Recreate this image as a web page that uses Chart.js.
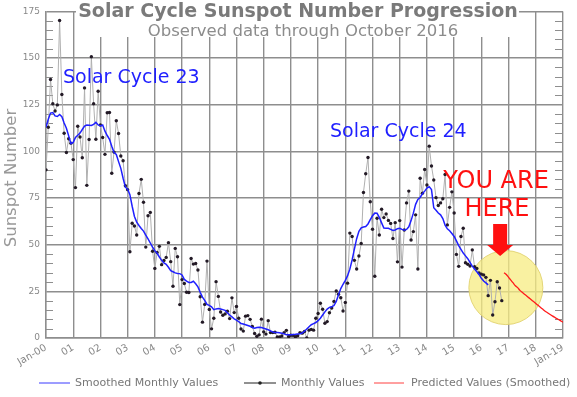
<!DOCTYPE html>
<html>
<head>
<meta charset="utf-8">
<script src="https://cdn.jsdelivr.net/npm/chart.js@4/dist/chart.umd.min.js"></script>
<style>
  html, body { margin: 0; padding: 0; background: #fff; }
  #wrap { width: 577px; height: 397px; }
</style>
</head>
<body>
<div id="wrap"><canvas id="chart" width="577" height="397"></canvas></div>
<script>
// --- Data (years since Jan 2000, one value per month) ---
const xTickLabels = ['Jan-00', '01', '02', '03', '04', '05', '06', '07', '08', '09',
    '10', '11', '12', '13', '14', '15', '16', '17', '18', 'Jan-19'];

// Monthly values, Jan 2000 .. Oct 2016
const monthlyValues = [
    90.1, 112.9, 138.5, 125.5, 121.6, 124.9, 170.1, 130.5, 109.7, 99.4, 106.8, 104.4,
    95.6, 80.6, 113.5, 107.7, 96.6, 134.0, 81.8, 106.4, 150.7, 125.5, 106.5, 132.2,
    114.1, 107.4, 98.4, 120.7, 120.8, 88.3, 99.6, 116.4, 109.6, 97.5, 95.0, 81.6,
    79.5, 46.2, 61.5, 60.0, 55.2, 77.4, 85.0, 72.7, 48.7, 65.5, 67.3, 46.5,
    37.3, 45.8, 49.1, 39.3, 41.5, 43.2, 51.1, 40.9, 27.7, 48.0, 43.5, 17.9,
    31.3, 29.2, 24.5, 24.4, 42.6, 39.6, 39.9, 36.4, 22.1, 8.5, 18.0, 41.2,
    15.3, 4.9, 10.6, 30.2, 22.3, 13.9, 12.2, 12.9, 14.4, 10.4, 21.5, 13.6,
    16.9, 10.6, 4.8, 3.7, 11.7, 12.0, 10.0, 6.2, 2.4, 0.9, 1.7, 10.1,
    3.3, 2.1, 9.3, 2.9, 2.9, 3.1, 0.5, 0.5, 1.1, 2.9, 4.1, 0.8,
    1.5, 1.4, 0.7, 1.2, 2.9, 2.6, 3.5, 0.0, 4.2, 4.6, 4.2, 10.6,
    13.1, 18.6, 15.4, 7.9, 8.8, 13.5, 16.1, 19.6, 25.2, 23.5, 21.6, 14.5,
    19.0, 29.4, 56.2, 54.4, 41.6, 37.0, 43.9, 50.6, 78.0, 88.0, 96.7, 73.0,
    58.3, 33.1, 64.2, 55.2, 69.0, 64.5, 66.5, 63.0, 61.4, 53.3, 61.8, 40.8,
    62.9, 38.0, 57.9, 72.4, 78.7, 52.5, 57.0, 66.0, 37.0, 85.6, 77.6, 90.3,
    82.0, 102.8, 92.2, 84.7, 75.2, 71.0, 72.4, 74.6, 87.6, 60.6, 70.0, 78.3,
    67.0, 44.8, 38.4, 54.4, 58.8, 40.3, 39.5, 38.6, 47.2, 38.2, 37.3, 34.8,
    34.2, 33.8, 32.5, 22.7, 30.9, 12.3, 19.4, 30.1, 26.8, 20.0
];

// Smoothed monthly values, Jan 2000 .. Apr 2016
const smoothedValues = [
    112.9, 117.2, 120.5, 120.8, 119.0, 118.7, 119.8, 118.6, 115.2, 112.4, 108.3, 104.1,
    104.8, 107.5, 108.6, 109.8, 111.7, 113.5, 114.1, 114.0, 113.9, 114.5, 115.6, 114.2,
    113.6, 114.1, 110.8, 108.5, 106.5, 102.8, 99.4, 98.3, 94.5, 90.9, 85.6, 80.8,
    79.7, 76.8, 70.6, 65.1, 62.1, 60.3, 58.7, 57.3, 55.1, 53.1, 50.9, 48.7,
    46.8, 45.4, 43.4, 41.6, 40.2, 39.5, 37.9, 36.1, 35.5, 34.9, 34.6, 34.5,
    33.8, 31.4, 30.5, 29.8, 29.8, 30.4, 29.1, 27.4, 24.5, 21.9, 20.2, 18.0,
    17.5, 16.7, 15.2, 15.6, 15.8, 15.5, 15.2, 14.8, 13.5, 12.3, 11.3, 10.3,
    9.6, 8.7, 7.8, 7.5, 7.1, 6.7, 6.3, 5.6, 5.2, 5.6, 5.7, 5.6,
    5.2, 4.8, 4.4, 3.8, 3.2, 2.9, 2.9, 2.8, 2.5, 2.2, 1.8, 1.7,
    1.8, 1.9, 2.0, 2.2, 2.3, 2.7, 3.6, 4.8, 6.0, 7.1, 7.7, 8.3,
    9.3, 10.6, 12.3, 14.0, 15.5, 16.4, 16.7, 17.4, 19.6, 23.2, 26.5, 28.8,
    30.9, 33.4, 36.9, 41.8, 47.6, 53.2, 57.2, 59.0, 59.5, 59.7, 61.1, 63.4,
    65.5, 66.9, 66.8, 64.6, 61.7, 58.9, 58.8, 58.8, 58.2, 57.6, 57.9, 58.6,
    58.8, 58.2, 57.8, 58.2, 59.6, 62.9, 66.9, 71.6, 74.2, 75.3, 77.3, 78.7,
    80.3, 81.1, 79.5, 69.8, 68.5, 67.0, 66.0, 64.0, 60.5, 58.5, 57.5, 56.0,
    54.4, 52.0, 49.5, 47.5, 45.5, 44.0, 42.5, 40.5, 38.5, 37.0, 35.5, 34.0,
    32.0, 30.5, 29.5, 28.5
];

// Predicted (smoothed) values, Nov 2016 .. Jan 2019
const predictedStartMonth = 202;
const predictedValues = [
    35.0, 34.0, 32.5, 31.0, 29.5, 28.0, 27.0, 25.5, 24.5, 23.5, 22.5, 21.5,
    20.5, 19.5, 18.5, 17.5, 16.5, 15.5, 14.5, 13.7, 12.9, 12.1, 11.3, 10.6,
    9.9, 9.2, 8.5
];

// --- Helpers ---
const FONT = '"DejaVu Sans", Verdana, sans-serif';
const GRID = '#8e8e8e';
const toPoints = (values, start) => values.map((v, i) => ({ x: (start + i) / 12, y: v }));

// Extra drawing: title, annotations, circle, arrow, minor ticks, legend
const decorPlugin = {
    id: 'decor',
    beforeDatasetsDraw(chart) {
        const ctx = chart.ctx;
        const xs = chart.scales.x, ys = chart.scales.y;
        const area = chart.chartArea;

        // minor ticks every 5 on both sides
        ctx.save();
        ctx.strokeStyle = GRID;
        ctx.lineWidth = 1.2;
        for (let v = 5; v < 175; v += 5) {
            if (v % 25 === 0) continue;
            const y = Math.round(ys.getPixelForValue(v)) + 0.5;
            ctx.beginPath();
            ctx.moveTo(area.left, y); ctx.lineTo(area.left + 7, y);
            ctx.moveTo(area.right - 8, y); ctx.lineTo(area.right, y);
            ctx.stroke();
        }
        ctx.restore();

        // yellow "you are here" circle
        ctx.save();
        ctx.beginPath();
        ctx.arc(xs.getPixelForValue(16.9), ys.getPixelForValue(27), 37, 0, Math.PI * 2);
        ctx.fillStyle = 'rgba(247, 236, 130, 0.75)';
        ctx.fill();
        ctx.strokeStyle = 'rgba(225, 210, 110, 0.9)';
        ctx.lineWidth = 1;
        ctx.stroke();
        ctx.restore();
    },
    afterDatasetsDraw(chart) {
        const ctx = chart.ctx;
        const xs = chart.scales.x, ys = chart.scales.y;

        ctx.save();
        ctx.textBaseline = 'middle';
        ctx.textAlign = 'left';
        ctx.fillStyle = '#1f1fff';
        ctx.font = '19px ' + FONT;
        ctx.fillText('Solar Cycle 23', 63, 78);
        ctx.fillText('Solar Cycle 24', 330, 132);

        ctx.fillStyle = '#ff1010';
        ctx.font = '24px ' + FONT;
        ctx.textAlign = 'center';
        ctx.fillText('YOU ARE', 496, 182);
        ctx.fillText('HERE', 497, 210);

        // red arrow
        const ax = xs.getPixelForValue(16.69);
        const tip = ys.getPixelForValue(44);
        ctx.beginPath();
        ctx.moveTo(ax - 7, tip - 32);
        ctx.lineTo(ax + 7, tip - 32);
        ctx.lineTo(ax + 7, tip - 11);
        ctx.lineTo(ax + 13, tip - 11);
        ctx.lineTo(ax, tip);
        ctx.lineTo(ax - 13, tip - 11);
        ctx.lineTo(ax - 7, tip - 11);
        ctx.closePath();
        ctx.fill();
        ctx.restore();
    },
    afterDraw(chart) {
        const ctx = chart.ctx;
        ctx.save();
        // white box behind title
        ctx.fillStyle = '#fff';
        ctx.fillRect(76, 0, 443, 37);
        ctx.textAlign = 'center';
        ctx.textBaseline = 'middle';
        ctx.fillStyle = '#7a7a7a';
        ctx.font = 'bold 19px ' + FONT;
        ctx.fillText('Solar Cycle Sunspot Number Progression', 298, 12);
        ctx.fillStyle = '#8c8c8c';
        ctx.font = '16.5px ' + FONT;
        ctx.fillText('Observed data through October 2016', 303, 32);

        // y axis title
        ctx.save();
        ctx.translate(12, 178);
        ctx.rotate(-Math.PI / 2);
        ctx.fillStyle = '#999';
        ctx.font = '16.5px ' + FONT;
        ctx.fillText('Sunspot Number', 0, 0);
        ctx.restore();

        // legend
        const ly = 383;
        ctx.lineWidth = 1;
        ctx.font = '11px ' + FONT;
        ctx.textAlign = 'left';
        ctx.fillStyle = '#777';
        ctx.strokeStyle = '#3a3aff';
        ctx.beginPath(); ctx.moveTo(39, ly); ctx.lineTo(70, ly); ctx.stroke();
        ctx.fillText('Smoothed Monthly Values', 75, ly);
        ctx.strokeStyle = '#222';
        ctx.beginPath(); ctx.moveTo(244, ly); ctx.lineTo(276, ly); ctx.stroke();
        ctx.fillStyle = '#222';
        ctx.beginPath(); ctx.arc(260, ly, 1.8, 0, Math.PI * 2); ctx.fill();
        ctx.fillStyle = '#777';
        ctx.fillText('Monthly Values', 281, ly);
        ctx.strokeStyle = '#ff4040';
        ctx.beginPath(); ctx.moveTo(374, ly); ctx.lineTo(404, ly); ctx.stroke();
        ctx.fillText('Predicted Values (Smoothed)', 411, ly);
        ctx.restore();
    }
};

new Chart(document.getElementById('chart'), {
    type: 'line',
    data: {
        datasets: [
            {
                label: 'Smoothed Monthly Values',
                data: toPoints(smoothedValues, 0),
                borderColor: '#1f1fff',
                borderWidth: 1.5,
                pointRadius: 0,
                tension: 0
            },
            {
                label: 'Predicted Values (Smoothed)',
                data: toPoints(predictedValues, predictedStartMonth),
                borderColor: '#ff1a1a',
                borderWidth: 1.3,
                pointRadius: 0,
                tension: 0.3
            },
            {
                label: 'Monthly Values',
                data: toPoints(monthlyValues, 0),
                borderColor: '#b0b0b0',
                borderWidth: 1,
                pointRadius: 1.7,
                pointBorderWidth: 0,
                pointBackgroundColor: '#231a26',
                tension: 0
            }
        ]
    },
    options: {
        responsive: false,
        animation: false,
        devicePixelRatio: 1,
        layout: { padding: { top: 7, right: 14, left: 0, bottom: 0 } },
        plugins: { legend: { display: false }, tooltip: { enabled: false } },
        scales: {
            x: {
                type: 'linear',
                min: 0,
                max: 19,
                afterFit: (scale) => { scale.height = 59; },
                grid: { color: GRID, lineWidth: 1.4, drawTicks: false },
                border: { color: GRID, width: 1.4 },
                ticks: {
                    stepSize: 1,
                    autoSkip: false,
                    minRotation: 30,
                    maxRotation: 30,
                    padding: 4,
                    color: '#888',
                    font: { family: FONT, size: 10 },
                    callback: (v) => xTickLabels[v]
                }
            },
            y: {
                min: 0,
                max: 175,
                afterFit: (scale) => { scale.width = 46; },
                grid: { color: GRID, lineWidth: 1.4, drawTicks: false },
                border: { color: GRID, width: 1.4 },
                ticks: {
                    stepSize: 25,
                    padding: 6,
                    color: '#888',
                    font: { family: FONT, size: 9 }
                }
            }
        }
    },
    plugins: [decorPlugin]
});
</script>
</body>
</html>
